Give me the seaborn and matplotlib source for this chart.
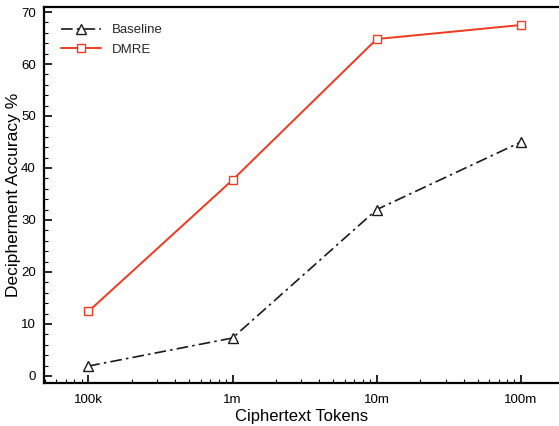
import numpy as np
import pandas as pd
import matplotlib.pyplot as plt
import seaborn as sns
from matplotlib.ticker import FixedLocator, LogLocator, MultipleLocator, NullFormatter

# Data
tokens = [1e5, 1e6, 1e7, 1e8]
tick_labels = ['100k', '1m', '10m', '100m']
baseline = [1.9, 7.3, 32.0, 45.0]
dmre = [12.4, 37.7, 64.8, 67.5]

sns.set_theme(style='white')
plt.rcParams['font.family'] = ['Liberation Sans', 'DejaVu Sans']

fig = plt.figure(figsize=(5.59, 4.26), dpi=100)
ax = fig.add_axes([0.079, 0.101, 0.921, 0.883])

sns.lineplot(x=tokens, y=baseline, ax=ax, color='#1a1a1a', linestyle=(0, (7, 2.5, 1.5, 2.5)),
             linewidth=1.2, marker='^', markersize=7, markerfacecolor='white',
             markeredgecolor='#1a1a1a', markeredgewidth=1.0, label='Baseline')
sns.lineplot(x=tokens, y=dmre, ax=ax, color='#f03a1f', linewidth=1.4,
             marker='s', markersize=6, markerfacecolor='white',
             markeredgecolor='#f03a1f', markeredgewidth=1.0, label='DMRE')

ax.set_xscale('log')
ax.set_xlim(10 ** 4.694, 10 ** 8.264)
ax.set_ylim(-1.35, 71)
ax.xaxis.set_major_locator(FixedLocator(tokens))
ax.set_xticklabels(tick_labels)
ax.xaxis.set_minor_locator(LogLocator(base=10, subs=np.arange(2, 10)))
ax.xaxis.set_minor_formatter(NullFormatter())
ax.yaxis.set_major_locator(MultipleLocator(10))
ax.yaxis.set_minor_locator(MultipleLocator(2))

ax.tick_params(which='both', direction='in', bottom=True, left=True, top=False, right=False,
               colors='black', labelsize=9.5)
ax.tick_params(which='major', length=6, width=1.2)
ax.tick_params(which='minor', length=3, width=0.8)
ax.tick_params(axis='x', which='major', pad=8)
ax.tick_params(axis='y', which='major', pad=6)

for side in ['left', 'bottom', 'top']:
    ax.spines[side].set_color('black')
    ax.spines[side].set_linewidth(1.6)
ax.spines['right'].set_visible(False)

ax.set_xlabel('Ciphertext Tokens', fontsize=12, labelpad=2, color='black')
ax.set_ylabel('Decipherment Accuracy %', fontsize=12.5, labelpad=0, color='black')

ax.legend(loc='upper left', frameon=False, fontsize=9.5, handlelength=3.0,
          borderaxespad=0.9, labelspacing=0.55)

fig.savefig('out.png', dpi=100)
